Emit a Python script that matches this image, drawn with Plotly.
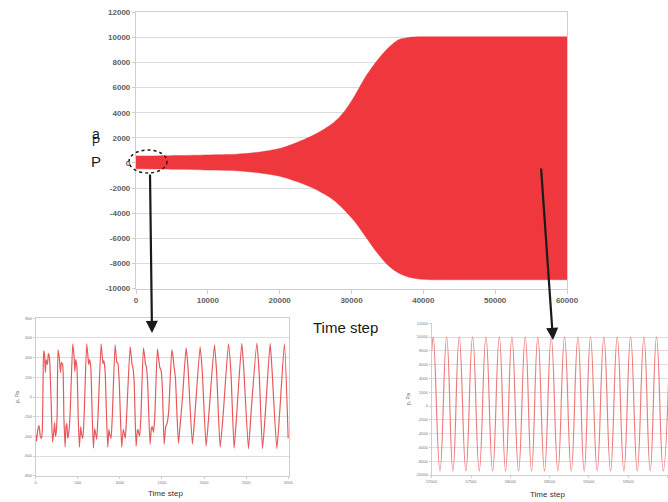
import plotly.graph_objects as go

W, H = 668, 502

# ---------------- data ----------------
# main chart: envelope of pressure oscillation (upper / lower bounds)
env_t = [0, 3000, 6000, 10000, 14000, 17000, 20000, 22500, 25000, 27500, 29000,
         30500, 32000, 33500, 35000, 36500, 38000, 39500, 41000, 45000, 50000, 55000, 60000]
env_upper = [560, 560, 590, 640, 700, 850, 1150, 1650, 2300, 3200, 4100,
             5400, 6900, 8100, 9100, 9800, 10000, 10050, 10050, 10050, 10050, 10050, 10050]
env_lower = [-470, -480, -500, -560, -620, -780, -1050, -1500, -2100, -2950, -3750,
             -4700, -5900, -7100, -8100, -8750, -9100, -9250, -9300, -9300, -9300, -9300, -9300]

main_xticks = [0, 10000, 20000, 30000, 40000, 50000, 60000]
main_yticks = [12000, 10000, 8000, 6000, 4000, 2000, 0, -2000, -4000, -6000, -8000, -10000]

# left inset: first 3000 time steps
left_t = [0, 10, 25, 40, 55, 70, 80, 88, 95, 105, 115, 125, 140, 150, 160, 170, 185, 200, 215, 225,
          235, 245, 255, 265, 280, 295, 305, 320, 335, 349, 360, 370, 380, 395, 410, 440, 455, 465,
          475, 490, 505, 519, 535, 545, 560, 575, 606, 620, 630, 640, 655, 670, 686, 700, 710, 725,
          740, 777, 790, 800, 810, 825, 840, 856, 870, 880, 895, 910, 943, 955, 965, 975, 990, 1005,
          1022, 1040, 1050, 1065, 1080, 1122, 1135, 1145, 1155, 1170, 1193, 1210, 1220, 1235, 1250,
          1280, 1295, 1305, 1315, 1330, 1359, 1375, 1385, 1400, 1415, 1446, 1460, 1475, 1490, 1505,
          1526, 1545, 1560, 1580, 1617, 1630, 1645, 1660, 1696, 1720, 1745, 1787, 1810, 1862, 1890,
          1954, 1980, 2025, 2060, 2124, 2150, 2192, 2230, 2291, 2320, 2358, 2390, 2449, 2475, 2528,
          2560, 2628, 2655, 2695, 2730, 2786, 2810, 2865, 2900, 2956, 3000]
left_p = [-380, -450, -330, -290, -400, -420, -300, 200, 470, 430, 250, 380, 330, 440, 420, 300, -100,
          -460, -350, -260, -400, -350, -180, 480, 400, 250, 350, 330, -200, -510, -300, -270, -420,
          -350, -150, 540, 420, 260, 380, 300, -200, -510, -300, -380, -420, -200, 540, 420, 330, 380,
          300, -150, -520, -320, -360, -430, -200, 540, 420, 340, 370, 260, -150, -510, -330, -380,
          -420, -200, 530, 430, 350, 350, 200, -150, -510, -330, -360, -420, -200, 510, 420, 330, 300,
          150, -500, -330, -350, -400, -200, 500, 410, 330, 310, 150, -480, -320, -300, -360, -200,
          490, 400, 300, 270, 100, -480, -300, -270, -150, 480, 420, 300, 200, -470, -250, 0, 500,
          300, -480, -200, 510, 250, -500, -150, 530, 250, -510, -150, 540, 250, -520, -150, 545,
          250, -525, -150, 548, 250, -525, -150, 545, 250, -525, -150, 540, -420]
left_xticks = [0, 500, 1000, 1500, 2000, 2500, 3000]
left_yticks = [800, 600, 400, 200, 0, -200, -400, -600, -800]

# right inset: last 3000 time steps (peaks / troughs)
right_t = [57000, 57020, 57105, 57190, 57270, 57350, 57435, 57520, 57605, 57690, 57775, 57860,
           57940, 58020, 58105, 58190, 58270, 58350, 58435, 58520, 58605, 58690, 58775, 58860,
           58940, 59020, 59105, 59190, 59275, 59360, 59445, 59530, 59615, 59700, 59780, 59860,
           59945, 60030]
right_p = [8000, 10000, -9400, 10000, -9400, 10000, -9400, 10000, -9400, 10000, -9400, 10000,
           -9400, 10000, -9400, 10000, -9400, 10000, -9400, 10000, -9400, 10000, -9400, 10000,
           -9400, 10000, -9400, 10000, -9400, 10000, -9400, 10000, -9400, 10000, -9400, 10000,
           -9400, 10000]
right_xticks = [57000, 57500, 58000, 58500, 59000, 59500, 60000]
right_yticks = [12000, 10000, 8000, 6000, 4000, 2000, 0, -2000, -4000, -6000, -8000, -10000]

# ---------------- figure ----------------
RED = "#ee383d"
fig = go.Figure()

fig.add_trace(go.Scatter(x=env_t, y=env_lower, mode="lines", line=dict(color=RED, width=0.5, shape="spline", smoothing=0.8),
                         xaxis="x", yaxis="y", hoverinfo="skip"))
fig.add_trace(go.Scatter(x=env_t, y=env_upper, mode="lines", line=dict(color=RED, width=0.5, shape="spline", smoothing=0.8),
                         fill="tonexty", fillcolor=RED, xaxis="x", yaxis="y", hoverinfo="skip"))

fig.add_trace(go.Scatter(x=left_t, y=left_p, mode="lines",
                         line=dict(color="#e8585b", width=1.2, shape="spline", smoothing=0.5),
                         xaxis="x2", yaxis="y2"))
fig.add_trace(go.Scatter(x=right_t, y=right_p, mode="lines",
                         line=dict(color="#ef7d7d", width=1.2, shape="spline", smoothing=1.3),
                         xaxis="x3", yaxis="y3"))


def px_x(p):
    return p / W


def px_y(p):
    return 1 - p / H


grid = "#dcdcdc"
border = "#cfcfcf"
tickc = "#5f5f5f"

main_font = dict(family="Liberation Sans, Arial", size=8, color=tickc, weight="bold")
small_font = dict(family="Liberation Sans, Arial", size=4, color="#777777")

common = dict(automargin=False, zeroline=False, showline=True, linecolor=border, ticks="outside",
              tickcolor=border)

fig.update_layout(
    width=W, height=H, margin=dict(l=0, r=0, t=0, b=0, autoexpand=False),
    paper_bgcolor="white", plot_bgcolor="white", showlegend=False,
    xaxis=dict(domain=[px_x(136), px_x(567)], range=[0, 60000], tickvals=main_xticks,
               ticktext=[str(v) for v in main_xticks], showgrid=False, linewidth=1.2, mirror=True,
               ticklen=4, tickfont=main_font, anchor="y", **common),
    yaxis=dict(domain=[px_y(288.5), px_y(12.3)], range=[-10000, 12000], tickvals=main_yticks,
               ticktext=[str(v) for v in main_yticks], showgrid=True, gridcolor=grid, gridwidth=1,
               linewidth=1.2, mirror=True, ticklen=3, tickfont=main_font, anchor="x", **common),
    xaxis2=dict(domain=[px_x(35.7), px_x(289)], range=[0, 3010], tickvals=left_xticks,
                ticktext=[str(v) for v in left_xticks], showgrid=False, linewidth=1, mirror=True,
                ticklen=2, tickfont=small_font, anchor="y2", **common),
    yaxis2=dict(domain=[px_y(475.7), px_y(318.3)], range=[-800, 800], tickvals=left_yticks,
                ticktext=[str(v) for v in left_yticks], showgrid=True, gridcolor=grid, gridwidth=1,
                linewidth=1, mirror=True, ticklen=2, tickfont=small_font, anchor="x2",
                title=dict(text="p, Pa", font=dict(family="Liberation Sans, Arial", size=5, color="#666666"),
                           standoff=4), **common),
    xaxis3=dict(domain=[px_x(431.7), 1.0], range=[57000, 60006], tickvals=right_xticks,
                ticktext=[str(v) for v in right_xticks], showgrid=False, linewidth=1, mirror=False,
                ticklen=2, tickfont=small_font, anchor="y3", **common),
    yaxis3=dict(domain=[px_y(475), px_y(323.3)], range=[-10000, 12000], tickvals=right_yticks,
                ticktext=[str(v) for v in right_yticks], showgrid=True, gridcolor=grid, gridwidth=1,
                linewidth=1, mirror=True, ticklen=2, tickfont=small_font, anchor="x3",
                title=dict(text="p, Pa", font=dict(family="Liberation Sans, Arial", size=5, color="#666666"),
                           standoff=4), **common),
)

ann_font = dict(family="Liberation Sans, Arial", color="#1a1a1a")


def label(text, x, y, size, color="#1a1a1a"):
    return dict(text=text, x=px_x(x), y=px_y(y), xref="paper", yref="paper", showarrow=False,
                xanchor="center", yanchor="middle",
                font=dict(size=size, family="Liberation Sans, Arial", color=color))


annotations = [
    label("Time step", 345, 327, 15),
    label("Time step", 165, 493, 8, "#333333"),
    label("Time step", 547, 494, 8, "#333333"),
    label("P", 96, 162, 15),
    label("P", 96, 142, 12),
    label("a", 96, 134, 14),
    # arrows (tail given as pixel offset from the head)
    dict(x=px_x(152), y=px_y(333), ax=-2, ay=-160, xref="paper", yref="paper",
         axref="pixel", ayref="pixel", showarrow=True, arrowhead=2, arrowsize=1.1, arrowwidth=2.2,
         arrowcolor="#1a1a1a", text=""),
    dict(x=px_x(553), y=px_y(340), ax=-12, ay=-173, xref="paper", yref="paper",
         axref="pixel", ayref="pixel", showarrow=True, arrowhead=2, arrowsize=1.1, arrowwidth=2.2,
         arrowcolor="#1a1a1a", text=""),
]
fig.update_layout(annotations=annotations)

fig.add_shape(type="circle", xref="paper", yref="paper",
              x0=px_x(129), x1=px_x(167), y0=px_y(173), y1=px_y(150),
              line=dict(color="#1a1a1a", width=1.5, dash="dot"))

fig.write_html("out.html", config={"displayModeBar": False},
               post_script="document.body.style.margin='0px';")
